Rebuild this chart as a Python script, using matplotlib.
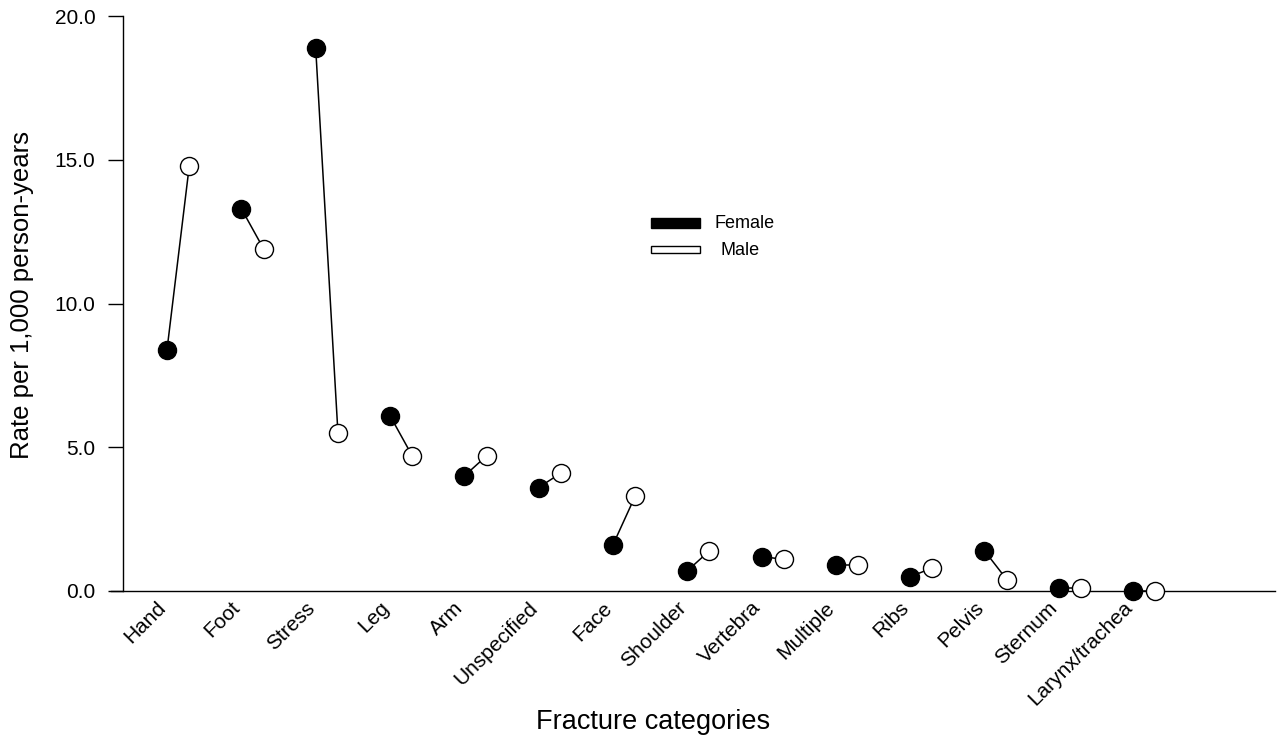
import numpy as np
import matplotlib
matplotlib.use('Agg')
import matplotlib.pyplot as plt
import matplotlib.transforms as mtransforms
from matplotlib.patches import Rectangle

plt.rcParams['font.family'] = ['Liberation Sans', 'DejaVu Sans']

# Fracture rates per 1,000 person-years by sex
categories = ['Hand', 'Foot', 'Stress', 'Leg', 'Arm', 'Unspecified', 'Face',
              'Shoulder', 'Vertebra', 'Multiple', 'Ribs', 'Pelvis', 'Sternum',
              'Larynx/trachea']
female = [8.4, 13.3, 18.9, 6.1, 4.0, 3.6, 1.6, 0.7, 1.2, 0.9, 0.5, 1.4, 0.1, 0.0]
male = [14.8, 11.9, 5.5, 4.7, 4.7, 4.1, 3.3, 1.4, 1.1, 0.9, 0.8, 0.4, 0.1, 0.0]
yticks = [0, 5, 10, 15, 20]

W, H = 1285, 738
x_f = np.arange(len(categories))
x_m = x_f + 0.3

fig = plt.figure(figsize=(W / 100, H / 100), dpi=100)
ax = fig.add_axes([111 / W, 147 / H, 1164 / W, 575 / H])

# line joining female and male value for each category
for xf, xm, f, m in zip(x_f, x_m, female, male):
    ax.plot([xf, xm], [f, m], color='black', lw=1.1, zorder=2, clip_on=False)

ax.plot(x_f, female, 'o', ms=13, mfc='black', mec='black', mew=1.0,
        zorder=3, clip_on=False)
ax.plot(x_m, male, 'o', ms=13, mfc='white', mec='black', mew=1.0,
        zorder=3, clip_on=False)

ax.set_xlim(-0.754, 14.91)
ax.set_ylim(0, 20)
ax.spines['top'].set_visible(False)
ax.spines['right'].set_visible(False)
ax.spines['left'].set_position(('data', -0.592))
ax.spines['left'].set_linewidth(1.0)
ax.spines['bottom'].set_linewidth(1.0)

ax.set_yticks(yticks)
ax.set_yticklabels([f'{v:.1f}' for v in yticks], fontsize=15)
ax.tick_params(axis='y', direction='out', length=11, width=1.0, pad=9)

ax.set_xticks(x_f)
ax.set_xticklabels(categories, rotation=45, ha='right', va='center',
                   rotation_mode='anchor', fontsize=15)
ax.tick_params(axis='x', length=0, pad=10)
shift = mtransforms.ScaledTranslation(-4 / 100, 0, fig.dpi_scale_trans)
for lab in ax.get_xticklabels():
    lab.set_transform(lab.get_transform() + shift)

ax.set_ylabel('Rate per 1,000 person-years', fontsize=18.5)
ax.yaxis.set_label_coords(-0.066, 0.515)
ax.set_xlabel('Fracture categories', fontsize=19.5)
ax.xaxis.set_label_coords(0.4655, -0.206)

# legend swatches, placed in pixel units
def px_box(x0, y0, x1, y1):
    return (x0 / W, 1 - y1 / H), (x1 - x0) / W, (y1 - y0) / H

xy, w, h = px_box(651, 218, 700, 228)
fig.patches.append(Rectangle(xy, w, h, transform=fig.transFigure,
                             facecolor='black', edgecolor='black', lw=1.0))
xy, w, h = px_box(651, 246, 700, 253)
fig.patches.append(Rectangle(xy, w, h, transform=fig.transFigure,
                             facecolor='white', edgecolor='black', lw=1.0))
fig.text(714 / W, 1 - 223.5 / H, 'Female', fontsize=13, va='center', ha='left')
fig.text(720 / W, 1 - 250.5 / H, 'Male', fontsize=13, va='center', ha='left')

fig.savefig('out.png', dpi=100)
